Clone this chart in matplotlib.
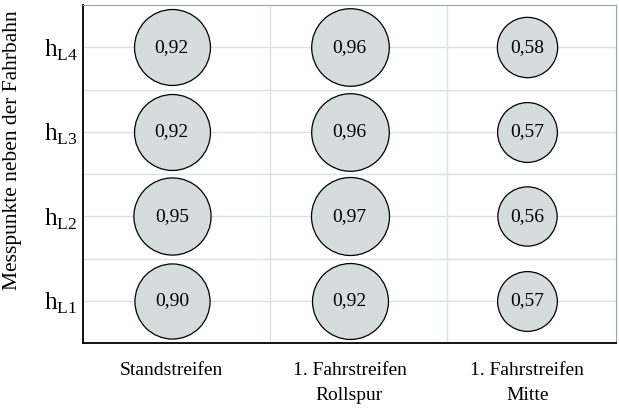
import numpy as np
import matplotlib.pyplot as plt

plt.rcParams['font.family'] = ['Liberation Serif', 'DejaVu Serif']
plt.rcParams['mathtext.fontset'] = 'custom'
plt.rcParams['mathtext.rm'] = 'Liberation Serif'

columns = ['Standstreifen', '1. Fahrstreifen\nRollspur', '1. Fahrstreifen\nMitte']
rows = ['L1', 'L2', 'L3', 'L4']
# values per column, bottom (hL1) to top (hL4)
standstreifen = [0.90, 0.95, 0.92, 0.92]
rollspur = [0.92, 0.97, 0.96, 0.96]
mitte = [0.57, 0.56, 0.57, 0.58]
values = [standstreifen, rollspur, mitte]

fig = plt.figure(figsize=(6.19, 4.12), dpi=100)
ax = fig.add_axes([83 / 619, 1 - 343 / 412, 533 / 619, 338 / 412])

for i, col in enumerate(values):
    for j, v in enumerate(col):
        ax.scatter(i, j + 1, s=3250 * v, facecolor='#d4dcdc', edgecolor='black',
                   linewidth=0.9, zorder=3)
        ax.text(i, j + 1, f'{v:.2f}'.replace('.', ','), ha='center', va='center',
                fontsize=14, zorder=4)

ax.set_xlim(-0.5, 2.5)
ax.set_ylim(0.5, 4.5)
ax.set_xticks(range(len(columns)))
ax.set_xticklabels(columns, fontsize=14, linespacing=1.6, va='top')
ax.set_yticks(range(1, len(rows) + 1))
ax.set_yticklabels([r'$\mathrm{h}_{\mathrm{' + r + '}}$' for r in rows], fontsize=18)
ax.tick_params(length=0)
ax.tick_params(axis='y', pad=4)
ax.tick_params(axis='x', pad=14)

# grid lines
for y in [1, 1.5, 2, 2.5, 3, 3.5, 4]:
    ax.axhline(y, color='#d8e2e2', linewidth=1, zorder=1)
for x in [0.55, 1.55]:
    ax.axvline(x, color='#d8e2e2', linewidth=1, zorder=1)

for s in ['top', 'right']:
    ax.spines[s].set_color('#9aa6a6')
ax.spines['left'].set_linewidth(1.3)
ax.spines['bottom'].set_linewidth(1.3)

ax.set_ylabel('Messpunkte neben der Fahrbahn', fontsize=15.5)
ax.yaxis.set_label_coords(-0.115, 0.57)

fig.savefig('out.png', dpi=100)
